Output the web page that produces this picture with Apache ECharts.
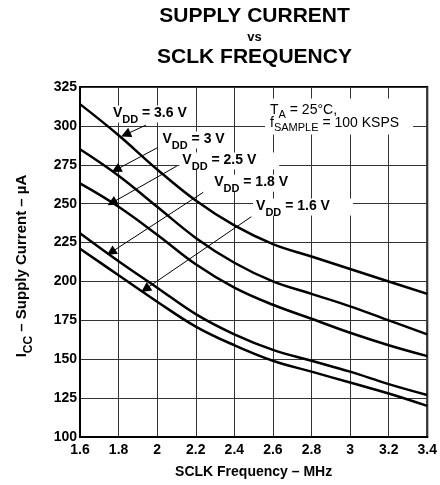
<!DOCTYPE html>
<html><head><meta charset="utf-8">
<script src="https://cdn.jsdelivr.net/npm/echarts@6/dist/echarts.min.js"></script>
<style>html,body{margin:0;padding:0;background:#fff}#c{width:440px;height:485px}</style>
</head><body><div id="c"></div>
<script>
// ---- data ----
const freq   = [1.6, 1.8, 2.0, 2.2, 2.4, 2.6, 2.8, 3.0, 3.2, 3.4];
const icc36  = [314, 294, 272, 252, 236, 224, 216, 208, 200, 192];
const icc30  = [285, 268, 248, 228, 212, 200, 192, 184, 175, 166];
const icc25  = [263, 248, 230, 211, 196, 185, 176, 167, 159, 152];
const icc18  = [231, 213, 196, 179, 166, 156, 149, 142, 134, 127];
const icc16  = [221, 204, 187, 171, 159, 149, 142, 135, 128, 120];
const vddLabels = ['3.6', '3', '2.5', '1.8', '1.6'];
const xTicks = [1.6, 1.8, 2.0, 2.2, 2.4, 2.6, 2.8, 3.0, 3.2, 3.4];
const yTicks = [100, 125, 150, 175, 200, 225, 250, 275, 300, 325];
// annotation positions in data units (MHz, uA)
const labelAnchor = [[1.755, 307.6], [2.012, 290.9], [2.115, 277.4], [2.280, 263.2], [2.497, 247.8]];
const arrowFrom   = [[1.942, 300.5], [2.002, 286.0], [2.102, 274.2], [2.239, 257.3], [2.488, 241.6]];
const arrowTo     = [[1.837, 294.5], [1.787, 271.8], [1.766, 250.6], [1.761, 218.7], [1.939, 195.1]];
const condAnchor  = [2.559, 306.0];

const FONT = 'Liberation Sans, Arial, Helvetica, sans-serif';
const allSeries = [icc36, icc30, icc25, icc18, icc16];
const labelPadR = [3, 3, 23, 3, 23];

const subRich = {
  m: { fontFamily: FONT, fontSize: 14, fontWeight: 'bold', color: '#000', verticalAlign: 'top', lineHeight: 15 },
  s: { fontFamily: FONT, fontSize: 11, fontWeight: 'bold', color: '#000', verticalAlign: 'top', lineHeight: 7, padding: [8, 0, 0, 0] }
};
const nameRich = {
  m: { fontFamily: FONT, fontSize: 15, fontWeight: 'bold', color: '#000', verticalAlign: 'top', lineHeight: 16 },
  s: { fontFamily: FONT, fontSize: 12, fontWeight: 'bold', color: '#000', verticalAlign: 'top', lineHeight: 7, padding: [9, 0, 0, 0] }
};
const condRich = {
  n: { fontFamily: FONT, fontSize: 14, color: '#000', verticalAlign: 'top', lineHeight: 13 },
  t: { fontFamily: FONT, fontSize: 11, color: '#000', verticalAlign: 'top', lineHeight: 7, padding: [6, 0, 0, 0] }
};

const mpData = vddLabels.map((v, i) => ({
  coord: labelAnchor[i], symbol: 'circle', symbolSize: 0,
  label: {
    show: true, position: 'right', distance: 0,
    formatter: '{m|V}{s|DD}{m| = ' + v + ' V}',
    backgroundColor: '#fff', padding: [1, labelPadR[i], 1, 3], rich: subRich
  }
}));
mpData.push({
  coord: condAnchor, symbol: 'circle', symbolSize: 0,
  label: {
    show: true, position: 'right', distance: 0,
    formatter: '{n|T}{t|A}{n| = 25°C,}\n{n|f}{t|SAMPLE}{n| = 100 KSPS}',
    backgroundColor: '#fff', padding: [5, 14, 5, 5], rich: condRich
  }
});

const series = allSeries.map((arr, i) => ({
  name: 'VDD = ' + vddLabels[i] + ' V',
  type: 'line',
  data: freq.map((f, k) => [f, arr[k]]),
  smooth: 0.4,
  symbol: 'none',
  lineStyle: { color: '#000', width: 2.5 },
  silent: true,
  z: 3
}));
series[0].markLine = {
  silent: true, symbol: ['none', 'triangle'], symbolSize: 10,
  label: { show: false },
  lineStyle: { color: '#000', width: 1, type: 'solid' },
  itemStyle: { color: '#000' },
  data: arrowFrom.map((p, i) => [{ coord: p }, { coord: arrowTo[i] }])
};
series[0].markPoint = { silent: true, data: mpData };

const chart = echarts.init(document.getElementById('c'), null, { renderer: 'canvas' });
chart.setOption({
  animation: false,
  backgroundColor: '#fff',
  title: {
    left: 254.5, top: 6, padding: 0, textAlign: 'center',
    text: '{a|SUPPLY CURRENT}\n{b|vs}\n{a|SCLK FREQUENCY}',
    textStyle: {
      rich: {
        a: { fontFamily: FONT, fontSize: 21, fontWeight: 'bold', color: '#000', lineHeight: 21 },
        b: { fontFamily: FONT, fontSize: 13, fontWeight: 'bold', color: '#000', lineHeight: 20 }
      }
    }
  },
  grid: { left: 80, right: 11, top: 87, bottom: 48, show: true, borderColor: '#000', borderWidth: 2, backgroundColor: 'transparent' },
  xAxis: {
    type: 'value',
    min: xTicks[0], max: xTicks[xTicks.length - 1],
    interval: Math.round((xTicks[1] - xTicks[0]) * 100) / 100,
    name: 'SCLK Frequency – MHz', nameLocation: 'middle', nameGap: 28,
    nameTextStyle: { fontFamily: FONT, fontSize: 14, fontWeight: 'bold', color: '#000' },
    axisLine: { lineStyle: { color: '#000', width: 2 } },
    axisTick: { show: false },
    axisLabel: { fontFamily: FONT, fontSize: 14, fontWeight: 'bold', color: '#000', margin: 6 },
    splitLine: { show: true, lineStyle: { color: '#333', width: 1 } }
  },
  yAxis: {
    type: 'value',
    min: yTicks[0], max: yTicks[yTicks.length - 1],
    interval: yTicks[1] - yTicks[0],
    name: '{m|I}{s|CC}{m| – Supply Current – µA}', nameLocation: 'middle', nameGap: 50, nameRotate: 90,
    nameTextStyle: { rich: nameRich, padding: [0, 8, 0, 0] },
    axisLine: { lineStyle: { color: '#000', width: 2 } },
    axisTick: { show: false },
    axisLabel: { fontFamily: FONT, fontSize: 14, fontWeight: 'bold', color: '#000', margin: 3 },
    splitLine: { show: true, lineStyle: { color: '#333', width: 1 } }
  },
  series: series
});
</script></body></html>
